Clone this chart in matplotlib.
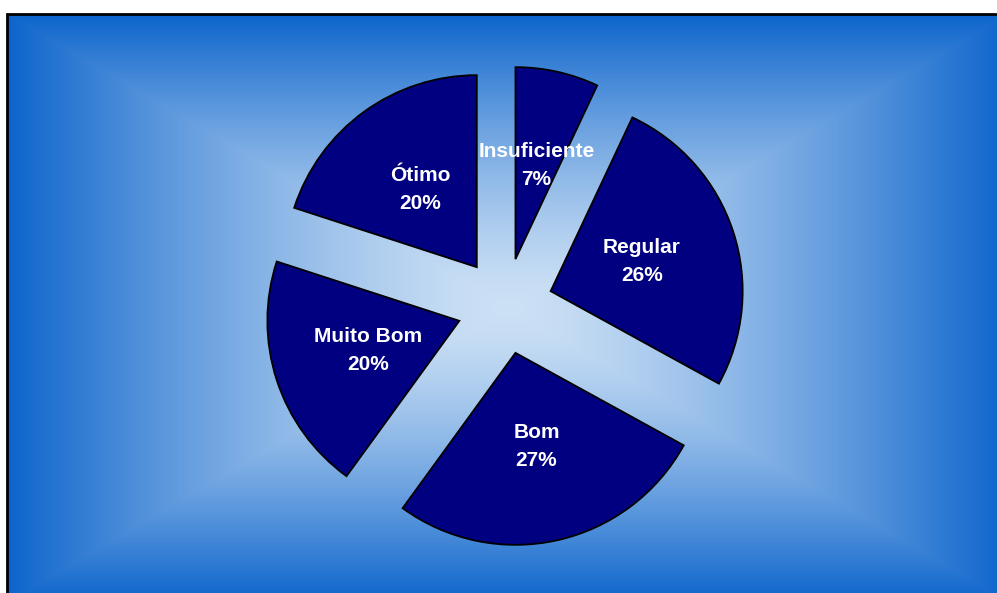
import numpy as np
import matplotlib.pyplot as plt
from matplotlib.patches import Rectangle

plt.rcParams['font.family'] = ['Liberation Sans', 'DejaVu Sans']

categorias = ['Insuficiente', 'Regular', 'Bom', 'Muito Bom', 'Ótimo']
valores = [7, 26, 27, 20, 20]
rotulos = [f'{c}\n{v}%' for c, v in zip(categorias, valores)]

W, H = 997, 593
fig = plt.figure(figsize=(W / 100, H / 100), dpi=100)
ax = fig.add_axes([0, 0, 1, 1])

# fundo em degrade (do centro para as bordas, retangular)
x0, x1, y0, y1 = 7, 1008, H - 602, H - 14
cx, cy = (x0 + x1) / 2, (y0 + y1) / 2
xx, yy = np.meshgrid(np.arange(W) + 0.5, np.arange(H) + 0.5)
t = np.maximum(np.abs(xx - cx) / ((x1 - x0) / 2), np.abs(yy - cy) / ((y1 - y0) / 2))
t = np.clip(t, 0, 1) ** 1.4
centro = np.array([205, 225, 245]) / 255
borda = np.array([12, 100, 204]) / 255
img = centro[None, None, :] * (1 - t[..., None]) + borda[None, None, :] * t[..., None]
ax.imshow(img, extent=(0, W, 0, H), origin='lower', zorder=0)

# mascara branca fora da area do grafico
ax.add_patch(Rectangle((0, y1), W, H - y1, color='white', zorder=1, lw=0))
ax.add_patch(Rectangle((0, 0), x0, H, color='white', zorder=1, lw=0))
ax.add_patch(Rectangle((x0, -20), 1020, y1 + 20, fill=False, ec='black', lw=2, zorder=2))

wedges, texts = ax.pie(valores, labels=rotulos, startangle=90, counterclock=False,
                       center=(505, H - 306), radius=192, explode=[48] * 5,
                       labeldistance=0.5, frame=True,
                       wedgeprops=dict(facecolor='#000080', edgecolor='black', lw=1.3),
                       textprops=dict(color='white', fontsize=15, fontweight='bold',
                                      ha='center', va='center', multialignment='center'))
for w in wedges:
    w.set_zorder(3)
for tx in texts:
    tx.set_zorder(4)
    tx.set_linespacing(1.65)

ax.set_xlim(0, W)
ax.set_ylim(0, H)
ax.set_aspect('auto')
ax.axis('off')

fig.savefig('out.png', dpi=100)
